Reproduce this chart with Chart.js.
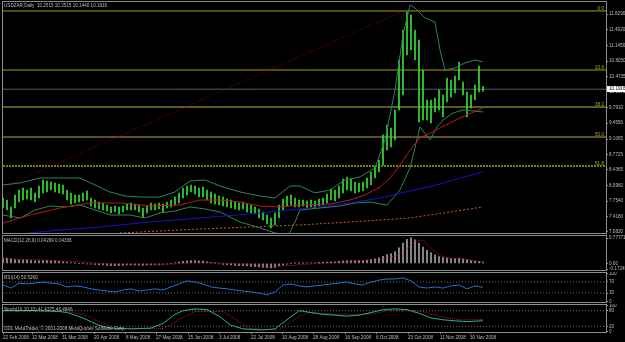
<!DOCTYPE html>
<html>
<head>
<meta charset="utf-8">
<script src="https://cdn.jsdelivr.net/npm/chart.js@4.4.1/dist/chart.umd.min.js"></script>
<style>
  html, body { margin:0; padding:0; background:#000; }
  body { position:relative; width:625px; height:342px; overflow:hidden; }
  canvas { position:absolute; left:0; display:block; }
</style>
</head>
<body>
<canvas id="cMain" width="625" height="235" style="top:0px;width:625px;height:235px"></canvas>
<canvas id="cMacd" width="625" height="37" style="top:235px;width:625px;height:37px"></canvas>
<canvas id="cRsi" width="625" height="32" style="top:272px;width:625px;height:32px"></canvas>
<canvas id="cSto" width="625" height="38" style="top:304px;width:625px;height:38px"></canvas>
<script>
// ---------------- DATA ----------------
const symbolTitle = 'USDZAR,Daily  10.2515 10.2515 10.1440 10.1916';
const lastClose = 10.1916;

// one bar per index (each index ~ 2 trading days)
const priceHigh = [7.823,7.779,7.627,7.888,7.997,8.040,7.997,8.040,7.932,8.084,
 8.215,8.193,8.171,8.149,8.128,8.106,7.997,7.932,7.888,7.888,
 7.932,7.975,7.823,7.779,7.735,7.714,7.670,7.627,7.648,7.627,
 7.648,7.692,7.714,7.692,7.670,7.605,7.648,7.714,7.692,7.714,
 7.692,7.735,7.779,7.844,7.932,8.040,8.084,8.106,8.084,8.040,
 8.062,7.997,7.953,7.910,7.866,7.844,7.801,7.779,7.735,7.714,
 7.735,7.692,7.670,7.627,7.583,7.518,7.452,7.387,7.496,7.670,
 7.801,7.866,7.888,7.823,7.779,7.779,7.757,7.779,7.757,7.801,
 7.823,7.910,8.018,7.997,8.084,8.236,8.280,8.236,8.171,8.149,
 8.171,8.258,8.389,8.520,8.650,9.195,9.413,9.347,9.739,10.828,
 11.482,11.874,11.808,11.482,11.264,10.610,9.957,9.957,10.001,10.175,
 10.066,10.436,10.393,10.480,10.785,10.349,10.131,10.066,10.284,10.698,
 10.2515];
const priceLow = [7.605,7.561,7.387,7.605,7.735,7.779,7.801,7.779,7.735,7.823,
 7.932,7.953,7.997,7.953,7.932,7.910,7.779,7.692,7.714,7.735,
 7.757,7.779,7.648,7.605,7.583,7.561,7.539,7.496,7.518,7.474,
 7.518,7.561,7.561,7.561,7.518,7.409,7.496,7.561,7.561,7.583,
 7.518,7.605,7.627,7.670,7.714,7.823,7.888,7.953,7.910,7.844,
 7.844,7.779,7.714,7.692,7.670,7.648,7.627,7.605,7.583,7.561,
 7.583,7.518,7.496,7.474,7.387,7.343,7.256,7.169,7.235,7.387,
 7.561,7.648,7.670,7.627,7.627,7.648,7.605,7.627,7.605,7.648,
 7.670,7.714,7.779,7.757,7.823,7.932,7.997,7.975,7.932,7.953,
 7.975,8.040,8.106,8.258,8.389,8.541,8.868,8.933,9.086,9.739,
 10.066,10.937,11.046,10.828,9.478,9.521,9.521,9.456,9.696,9.739,
 9.587,9.913,10.022,10.110,10.393,10.066,9.587,9.783,9.957,10.131,
 10.144];

// Bollinger bands (bar index, price)
const bbUpperIdx = [0,4.25,9.25,14.25,19.25,23,26.75,30.5,34.25,39.25,43,46.75,50.5,54.25,59.25,64.25,68,71.75,74.25,78,81.75,85.5,89.25,93,95.5,98,100,101.75,103,105.5,108,109.25,110.5,113,115.5,118,120];
const bbUpper = [8.106,8.149,8.258,8.258,8.258,8.106,7.953,7.866,7.844,7.844,7.953,8.193,8.215,8.084,7.953,7.866,7.823,8.084,8.084,7.932,7.997,8.215,8.280,8.476,9.086,10.175,11.373,12.026,11.961,11.743,11.656,11.046,10.610,10.654,10.763,10.828,10.785];
const bbLowerIdx = [0,4.25,8,11.75,15.5,19.25,23,26.75,31.75,35.5,39.25,43,46.75,50.5,54.25,59.25,64.25,68,71.25,73,74.25,79.25,84.25,88,91.75,96,99.25,101.75,104.25,106.75,108.5,110,112.5,115,120];
const bbLower = [7.452,7.387,7.561,7.648,7.627,7.670,7.561,7.452,7.452,7.387,7.496,7.539,7.627,7.583,7.518,7.300,7.169,7.060,6.995,7.300,7.561,7.605,7.648,7.714,7.735,7.670,7.997,8.476,9.369,9.086,9.369,9.521,9.674,9.739,9.696];

// moving averages
const maRedIdx = [0,6.75,14.25,21.75,29.25,36.75,44.25,49.25,54.25,59.25,64.25,69.25,74.25,81.75,86.75,90.5,94.25,96.75,99.25,101.75,104.25,109.25,114.25,120];
const maRed = [7.278,7.452,7.605,7.714,7.714,7.648,7.670,7.779,7.779,7.735,7.648,7.627,7.670,7.692,7.779,7.888,8.062,8.258,8.541,8.868,9.129,9.347,9.565,9.783];
const maBlueIdx = [4.25,14.25,24.25,36.75,49.25,61.75,74.25,86.75,94.25,101.75,109.25,114.25,120];
const maBlue = [7.039,7.126,7.191,7.300,7.387,7.474,7.583,7.714,7.823,7.975,8.128,8.258,8.389];
const maOrangeIdx = [29.25,49.25,74.25,86.75,101.75,111.75,120];
const maOrange = [7.060,7.147,7.235,7.300,7.387,7.518,7.627];

// Fibonacci retracement
const fibLevels = ['0.0','23.6','38.2','50.0','61.8'];
const fibPrices = [11.895,10.610,9.805,9.151,8.519];
const fibTrendIdx = [0,100];
const fibTrendVal = [8.05,11.895];

// price axis ticks
const priceTicks = [11.829,11.492,11.145,10.805,10.4735,10.1375,9.791,9.455,9.1065,8.7725,8.4365,8.096,7.754,7.418,7.082];

// MACD
const macdTitle = 'MACD(12,26,9) 0.04299 0.04336';
const macdMain = [0.17,0.16,0.14,0.12,0.11,0.10,0.10,0.09,0.08,0.08,
 0.09,0.09,0.08,0.07,0.06,0.05,0.03,0.02,0.01,0.00,
 0.00,-0.01,-0.02,-0.03,-0.04,-0.05,-0.06,-0.07,-0.07,-0.07,
 -0.06,-0.05,-0.05,-0.05,-0.05,-0.06,-0.05,-0.04,-0.03,-0.03,
 -0.02,-0.01,0.00,0.02,0.04,0.06,0.08,0.09,0.09,0.08,
 0.07,0.05,0.03,0.01,-0.01,-0.03,-0.04,-0.05,-0.06,-0.07,
 -0.07,-0.08,-0.09,-0.10,-0.11,-0.12,-0.13,-0.14,-0.12,-0.08,
 -0.05,-0.02,0.00,0.01,0.01,0.01,0.02,0.02,0.02,0.03,
 0.03,0.04,0.05,0.05,0.06,0.08,0.09,0.09,0.09,0.09,
 0.09,0.10,0.12,0.14,0.17,0.22,0.27,0.30,0.36,0.48,
 0.62,0.74,0.78,0.72,0.62,0.50,0.40,0.32,0.26,0.21,
 0.18,0.16,0.15,0.15,0.16,0.14,0.11,0.09,0.07,0.06,
 0.043];
const macdSignalIdx = [0,9,19,29,39,49,57,67,72,79,87,94,98,99,101,103,105,107,110,113,116,120];
const macdSignal = [0.14,0.11,0.05,-0.04,-0.05,0.04,0.0,-0.10,-0.06,0.0,0.06,0.11,0.22,0.30,0.45,0.68,0.72,0.45,0.20,0.15,0.12,0.043];
const macdTicks = [0.77771,0,-0.17245];
const macdTickLabels = ['0.77771','0.00','-0.17245'];

// RSI
const rsiTitle = 'RSI(14) 50.5260';
const rsiIdx = [0,2,4,6,8,10,12,14,16,18,20,22,24,26,28,30,32,34,36,38,40,42,44,46,48,50,52,54,56,58,60,62,64,66,68,70,72,74,76,78,80,82,84,86,88,90,92,94,96,98,100,102,104,106,108,110,112,114,116,118,120];
const rsiValues = [59,48,66,63,66,70,66,63,52,56,52,45,41,37,34,41,45,37,41,45,41,52,63,74,70,63,52,48,45,41,37,34,30,23,34,59,63,56,52,56,59,63,66,70,63,59,70,77,81,81,85,74,52,48,52,48,56,59,45,56,50.526];
const rsiLevels = [70,30];
const rsiTicks = [100,70,30,0];

// Stochastic
const stoTitle = 'Stoch(10,10,10) 41.4375 46.4946';
const stoMainIdx = [0,8,14,16,20,24,27,32,37,40,43,45,48,51,54,57,60,65,68,71,74,77,80,83,86,89,92,95,98,101,104,107,110,113,116,120];
const stoMain = [80,80,77,73,52,24,13,10,13,31,66,80,87,84,59,24,10,6,10,45,80,73,66,63,59,63,73,84,87,84,70,52,45,41,38,41.4375];
const stoSignalIdx = [0,15,20,24,28,40,44,48,55,59,62,69,72,76,85,92,96,102,105,108,111,114,117,120];
const stoSignal = [80,80,66,38,13,10,45,77,77,38,10,6,38,73,66,66,80,80,77,63,52,45,45,46.4946];
const stoLevels = [80,20];
const stoTicks = [100,80,20,0];
const copyright = 'ODL MetaTrader, \u00A9 2001-2008 MetaQuotes Software Corp.';

// date axis
const dateLabels = ['22 Feb 2008','12 Mar 2008','31 Mar 2008','20 Apr 2008','8 May 2008','27 May 2008','15 Jun 2008','3 Jul 2008','22 Jul 2008','10 Aug 2008','28 Aug 2008','16 Sep 2008','6 Oct 2008','23 Oct 2008','11 Nov 2008','30 Nov 2008'];
const dateTickIdx = [0,7.25,14.75,22.75,30.75,38.25,46.25,54,62,69.75,77.5,85.5,93.25,101.25,109.25,116.75];

// ---------------- CHART SETUP ----------------
const X_MAX = 150.75;
const FONT = '"Liberation Sans", Arial, sans-serif';
const FS = 4.6;
const TXT = '#bdbdbd';
const FRAME = '#8c8c8c';

const pts = (idx, vals) => idx.map((x, k) => ({x: x, y: vals[k]}));
const hline = (v) => [{x: 0, y: v}, {x: X_MAX, y: v}];

function lineDs(data, color, width, dash, order) {
  return {type: 'line', data: data, borderColor: color, borderWidth: width, borderDash: dash || [],
    pointRadius: 0, tension: 0, fill: false, order: order};
}

function xAxis(show) {
  const ax = {type: 'linear', min: 0, max: X_MAX, display: show, offset: false,
    grid: {display: false}, border: {display: false}};
  if (show) {
    ax.grid = {display: true, drawOnChartArea: false, drawTicks: true, tickLength: 2, color: FRAME, offset: false};
    ax.afterBuildTicks = s => { s.ticks = dateTickIdx.map(v => ({value: v})); };
    ax.afterFit = s => { s.height = 10; s.paddingLeft = 0; s.paddingRight = 0; };
    ax.ticks = {color: TXT, font: {family: FONT, size: FS}, padding: 1, align: 'start', maxRotation: 0, minRotation: 0,
      autoSkip: false, callback: (v) => { const k = dateTickIdx.indexOf(v); return k >= 0 ? dateLabels[k] : ''; }};
  }
  return ax;
}

function yAxis(min, max, ticks, labels) {
  return {
    type: 'linear', position: 'right', min: min, max: max,
    afterBuildTicks: s => { s.ticks = ticks.map(v => ({value: v})); },
    afterFit: s => { s.width = 19; s.paddingTop = 0; s.paddingBottom = 0; },
    grid: {display: true, drawOnChartArea: false, drawTicks: true, tickLength: 2, color: FRAME},
    border: {display: false},
    ticks: {color: TXT, font: {family: FONT, size: FS}, padding: 1, autoSkip: false,
      callback: (v) => { const k = ticks.indexOf(v); return k >= 0 ? labels[k] : ''; }}
  };
}

const framePlugin = {
  id: 'frame',
  beforeDraw(c) { const ctx = c.ctx; ctx.save(); ctx.fillStyle = '#000'; ctx.fillRect(0, 0, c.width, c.height); ctx.restore(); },
  afterDraw(c) {
    const ctx = c.ctx, a = c.chartArea;
    ctx.save(); ctx.strokeStyle = FRAME; ctx.lineWidth = 1;
    ctx.strokeRect(a.left - 0.5, a.top - 0.5, a.right - a.left + 1, a.bottom - a.top + 1);
    ctx.restore();
  }
};

function textPlugin(fn) {
  return {id: 'txt', afterDraw(c) { const ctx = c.ctx; ctx.save(); ctx.font = FS + 'px ' + FONT; ctx.fillStyle = TXT; ctx.textBaseline = 'top'; fn(c, ctx); ctx.restore(); }};
}

function baseOptions(scales, pad) {
  return {responsive: false, animation: false, devicePixelRatio: 1, maintainAspectRatio: false,
    layout: {padding: pad}, plugins: {legend: {display: false}, tooltip: {enabled: false}, title: {display: false}},
    events: [], scales: scales};
}

// ---- main price chart ----
const fibColors = ['#9e9e14', '#9e9e14', '#78782e', '#786c34', '#a2a20c'];
const fibWidths = [1, 1, 1.5, 1.5, 1.5];
const fibDash = [[], [], [], [], [2, 1]];
const mainDatasets = [];
mainDatasets.push(lineDs(pts(maRedIdx, maRed), '#c01818', 1, [], 1));
mainDatasets.push(lineDs(pts(maBlueIdx, maBlue), '#1414c0', 1, [], 1));
mainDatasets.push(lineDs(pts(maOrangeIdx, maOrange), '#c0602a', 1, [2, 2], 1));
mainDatasets.push(lineDs(pts(bbUpperIdx, bbUpper), '#2a8462', 1, [], 2));
mainDatasets.push(lineDs(pts(bbLowerIdx, bbLower), '#2a8462', 1, [], 2));
mainDatasets.push({type: 'bar', data: priceHigh.map((h, i) => ({x: i, y: [priceLow[i], h]})),
  backgroundColor: '#34e034', borderWidth: 0, barThickness: 1, grouped: false, order: 3});
mainDatasets.push(lineDs(pts(fibTrendIdx, fibTrendVal), '#a00000', 1, [1, 2], 4));
mainDatasets.push(lineDs(hline(lastClose), '#4e5e6a', 1, [], 5));
fibPrices.forEach((p, k) => mainDatasets.push(lineDs(hline(p), fibColors[k], fibWidths[k], fibDash[k], 6)));

const MAIN_MIN = 7.060, MAIN_MAX = 12.091;
new Chart(document.getElementById('cMain'), {
  type: 'line',
  data: {datasets: mainDatasets},
  options: baseOptions({x: xAxis(false), y: yAxis(MAIN_MIN, MAIN_MAX, priceTicks, priceTicks.map(v => v.toFixed(4)))},
    {left: 3, right: 0, top: 2, bottom: 2}),
  plugins: [framePlugin, textPlugin((c, ctx) => {
    const y = c.scales.y, a = c.chartArea;
    ctx.fillText(symbolTitle, 4, 3);
    ctx.textAlign = 'right'; ctx.textBaseline = 'bottom'; ctx.fillStyle = '#b0b020';
    fibPrices.forEach((p, k) => ctx.fillText(fibLevels[k], a.right - 2, Math.round(y.getPixelForValue(p))));
    const py = Math.round(y.getPixelForValue(lastClose));
    ctx.fillStyle = '#ffffff'; ctx.fillRect(a.right + 1, py - 3, 19, 6);
    ctx.fillStyle = '#000000'; ctx.textAlign = 'left'; ctx.textBaseline = 'middle';
    ctx.fillText(lastClose.toFixed(4), a.right + 3, py);
  })]
});

// ---- MACD ----
new Chart(document.getElementById('cMacd'), {
  type: 'line',
  data: {datasets: [
    lineDs(pts(macdSignalIdx, macdSignal), '#d01010', 1, [1, 1], 1),
    {type: 'bar', data: macdMain.map((v, i) => ({x: i, y: v})), backgroundColor: '#a0a0a0', borderWidth: 0,
      barThickness: 1, grouped: false, order: 2}
  ]},
  options: baseOptions({x: xAxis(false), y: yAxis(-0.202, 0.839, macdTicks, macdTickLabels)},
    {left: 3, right: 0, top: 1, bottom: 2}),
  plugins: [framePlugin, textPlugin((c, ctx) => { ctx.fillText(macdTitle, 4, 3.5); })]
});

// ---- RSI ----
new Chart(document.getElementById('cRsi'), {
  type: 'line',
  data: {datasets: [
    lineDs(pts(rsiIdx, rsiValues), '#1f72d2', 1, [], 1),
    ...rsiLevels.map(v => lineDs(hline(v), '#6e6e6e', 1, [1, 2], 2))
  ]},
  options: baseOptions({x: xAxis(false), y: yAxis(-2.7, 102.7, rsiTicks, rsiTicks.map(String))},
    {left: 3, right: 0, top: 1, bottom: 2}),
  plugins: [framePlugin, textPlugin((c, ctx) => { ctx.fillText(rsiTitle, 4, 3); })]
});

// ---- Stochastic + date axis ----
new Chart(document.getElementById('cSto'), {
  type: 'line',
  data: {datasets: [
    lineDs(pts(stoMainIdx, stoMain), '#22b0a6', 1, [], 1),
    lineDs(pts(stoSignalIdx, stoSignal), '#d01010', 1, [1, 1], 2),
    ...stoLevels.map(v => lineDs(hline(v), '#6e6e6e', 1, [1, 2], 3))
  ]},
  options: baseOptions({x: xAxis(true), y: yAxis(-2, 102, stoTicks, stoTicks.map(String))},
    {left: 3, right: 0, top: 1, bottom: 0}),
  plugins: [framePlugin, textPlugin((c, ctx) => {
    ctx.fillText(stoTitle, 4, 3);
    ctx.fillText(copyright, 4, 22.5);
  })]
});
</script>
</body>
</html>
